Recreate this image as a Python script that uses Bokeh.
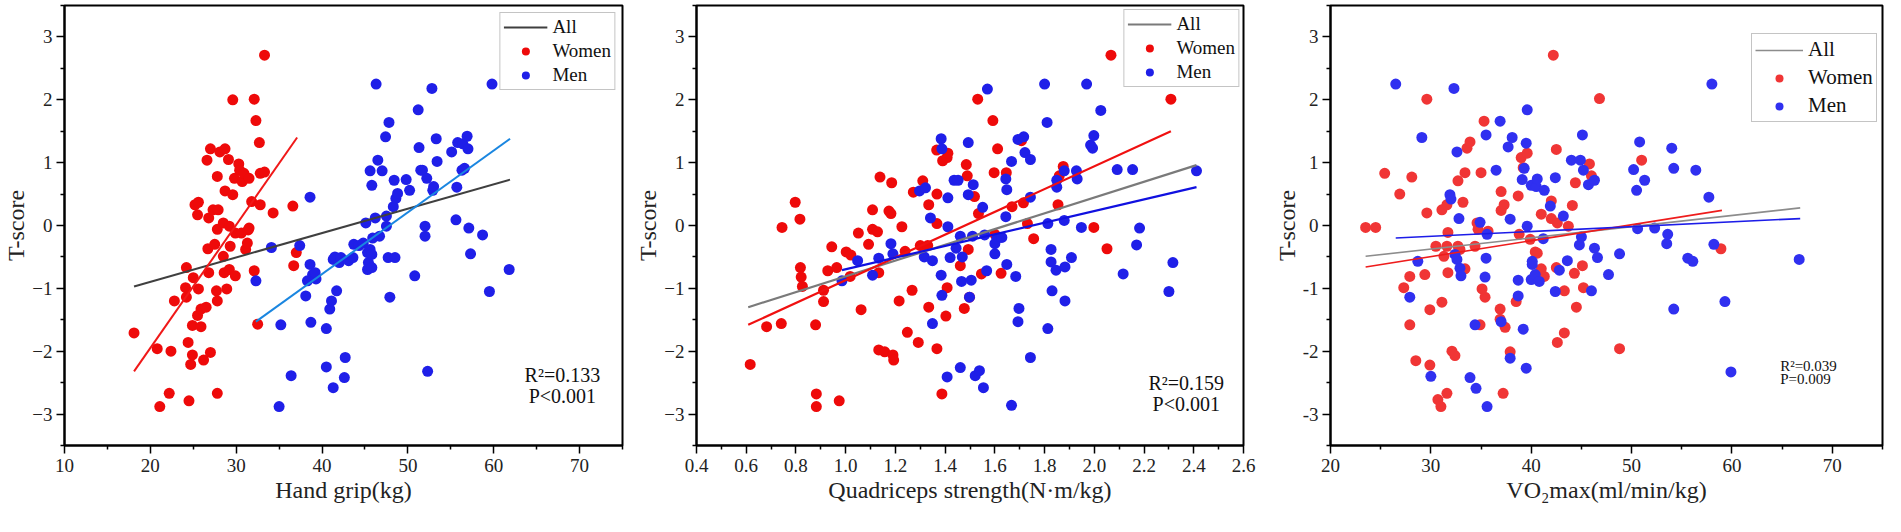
from bokeh.plotting import figure
from bokeh.layouts import row
from bokeh.models import (FixedTicker, CustomJSTickFormatter, Legend, LegendItem,
                          Label, Range1d)
from bokeh.embed import file_html
from bokeh.resources import INLINE

# ---------------- data ----------------
y_ticks = [-3, -2, -1, 0, 1, 2, 3]
y_minor = [-3.5, -2.5, -1.5, -0.5, 0.5, 1.5, 2.5, 3.5]

# Panel 1: hand grip
hg_ticks = [10, 20, 30, 40, 50, 60, 70]
hg_minor = [15, 25, 35, 45, 55, 65, 75]
hg_women_x = [18.1, 20.8, 22.4, 22.2, 21.1, 24.5, 22.8, 24.2, 24.1, 24.2, 24.4, 24.7, 24.9, 24.9, 25.0,
              25.2, 25.6, 25.5, 25.6, 25.5, 25.9, 26.2, 25.9, 26.5, 26.6, 26.7, 26.8, 27.0, 27.0, 26.8,
              27.3, 27.5, 27.8, 27.8, 27.9, 27.7, 27.8, 27.8, 28.1, 28.5, 28.5, 28.6, 28.7, 28.7, 28.9,
              29.1, 29.2, 29.2, 29.3, 29.6, 29.6, 29.8, 29.9, 29.9, 30.3, 30.4, 30.6, 30.7, 30.9, 31.1,
              31.3, 31.4, 31.5, 31.5, 31.8, 32.1, 32.1, 32.3, 32.7, 32.8, 32.8, 33.3, 33.3, 32.5, 34.3,
              36.6, 37.0, 36.7]
hg_women_y = [-1.71, -1.96, -2.00, -2.67, -2.88, -2.79, -1.20, -0.67, -0.99, -1.14, -1.86, -2.21, -2.06,
              -1.59, -0.83, 0.33, 0.37, 0.17, -1.01, -1.43, -1.61, -2.14, -1.33, -1.30, 1.04, -0.37,
              -0.75, 1.22, -2.02, 0.12, 0.25, -0.30, -0.06, 0.78, 0.25, -1.04, -1.20, -2.67, 1.17, 0.04,
              -0.49, -0.75, 1.22, 0.55, -1.01, 1.05, -0.01, -0.70, -0.33, 2.00, 0.49, 0.75, -0.12, -0.80,
              0.98, 0.88, -0.12, 0.70, 0.83, -0.38, -0.28, -0.07, 0.75, -0.04, 0.38, 2.01, -0.72, 1.67,
              1.32, 0.33, 0.83, 2.71, 0.85, -1.57, 0.20, 0.31, -0.43, -0.64]
hg_men_x = [32.3, 34.1, 35.2, 35.0, 36.4, 37.4, 38.1, 38.6, 38.7, 38.6, 38.9, 38.3, 39.3, 39.2, 40.5,
            40.5, 40.9, 41.1, 41.3, 41.3, 41.5, 41.7, 42.0, 42.2, 42.6, 42.7, 43.1, 43.6, 43.7, 44.3,
            44.8, 45.1, 45.3, 45.4, 45.3, 45.6, 45.8, 45.8, 45.6, 45.8, 45.9, 46.2, 46.3, 46.5, 46.7,
            47.0, 47.4, 47.5, 47.5, 47.7, 47.8, 47.9, 48.3, 48.4, 48.5, 48.6, 48.8, 49.8, 50.2, 50.8,
            51.2, 51.3, 51.5, 51.7, 52.0, 52.0, 52.2, 52.3, 52.8, 52.9, 53.0, 53.3, 53.4, 55.1, 55.6,
            55.7, 55.8, 56.3, 56.4, 56.6, 56.9, 57.0, 57.1, 57.3, 58.7, 59.5, 59.8, 61.8]
hg_men_y = [-0.88, -0.35, -1.58, -2.88, -2.39, -0.32, -1.12, 0.45, -1.54, -0.62, -0.78, -0.88, -0.85,
            -0.75, -1.64, -2.25, -1.33, -1.20, -2.58, -0.54, -0.50, -1.04, -0.59, -0.51, -2.42, -2.10,
            -0.56, -0.51, -0.30, -0.32, -0.28, 0.04, -0.43, -0.59, -0.70, -0.38, -0.46, -0.67, 0.87,
            0.64, -0.20, 0.12, 2.25, 1.04, -0.17, 0.87, 1.41, 0.15, -0.01, -0.51, 1.64, -1.14, 0.30,
            0.72, -0.51, 0.43, 0.51, 0.73, 0.56, -0.80, 1.84, 1.24, 0.88, 0.88, -0.01, -0.17, 0.75,
            -2.32, 2.18, 0.56, 0.62, 1.38, 1.02, 1.17, 0.09, 0.61, 1.32, 0.88, 1.30, 0.91, 1.42, 1.22,
            -0.04, -0.45, -0.15, -1.05, 2.25, -0.70]
hg_all_fit_x = [18.1, 61.9]
hg_all_fit_y = [-0.97, 0.73]
hg_women_fit_x = [18.1, 37.1]
hg_women_fit_y = [-2.32, 1.40]
hg_men_fit_x = [32.3, 61.9]
hg_men_fit_y = [-1.53, 1.38]

# Panel 2: quadriceps strength
qs_ticks = [0.4, 0.6, 0.8, 1.0, 1.2, 1.4, 1.6, 1.8, 2.0, 2.2, 2.4, 2.6]
qs_minor = [0.5, 0.7, 0.9, 1.1, 1.3, 1.5, 1.7, 1.9, 2.1, 2.3, 2.5]
qs_women_x = [0.616, 0.682, 0.741, 0.744, 0.797, 0.816, 0.818, 0.821, 0.826, 0.879, 0.882, 0.882, 0.911,
              0.911, 0.928, 0.944, 0.964, 0.974, 1.002, 1.021, 1.018, 1.051, 1.062, 1.092, 1.108, 1.108,
              1.128, 1.133, 1.138, 1.133, 1.157, 1.174, 1.182, 1.185, 1.190, 1.193, 1.215, 1.226, 1.239,
              1.248, 1.267, 1.272, 1.292, 1.300, 1.310, 1.330, 1.334, 1.334, 1.366, 1.367, 1.367, 1.367,
              1.387, 1.390, 1.403, 1.408, 1.411, 1.408, 1.461, 1.477, 1.485, 1.489, 1.493, 1.498, 1.518,
              1.531, 1.534, 1.546, 1.592, 1.597, 1.600, 1.611, 1.625, 1.646, 1.669, 1.707, 1.715, 1.731,
              1.756, 1.854, 1.859, 1.875, 1.998, 2.051, 2.067, 2.308]
qs_women_y = [-2.21, -1.61, -1.56, -0.03, 0.37, 0.10, -0.67, -0.82, -0.97, -1.58, -2.68, -2.88, -1.03,
              -1.21, -0.72, -0.34, -0.67, -2.79, -0.42, -0.47, -0.81, -0.12, -1.34, -0.30, 0.25, -0.06,
              -0.10, -0.75, 0.77, -1.98, -2.01, 0.23, 0.19, 0.68, -2.06, -2.14, -1.20, -0.02, -0.41,
              -1.70, -1.03, 0.53, -1.86, -0.32, 0.71, -0.32, 0.33, -1.30, 1.20, -1.96, 0.50, 0.03, -2.68,
              1.03, -1.44, 1.08, 1.15, -0.99, -0.64, -1.32, 0.97, 0.79, -0.38, -1.14, 0.46, 2.01, 0.19,
              -0.77, 1.67, 0.84, -0.14, 1.22, -0.76, 0.84, 0.30, 1.35, 0.36, 0.03, -0.21, 0.33, 0.79,
              0.94, -0.03, -0.37, 2.71, 2.01]
qs_men_x = [0.985, 1.048, 1.108, 1.133, 1.182, 1.190, 1.297, 1.321, 1.316, 1.341, 1.349, 1.349, 1.384,
            1.387, 1.384, 1.387, 1.408, 1.411, 1.411, 1.420, 1.436, 1.452, 1.444, 1.461, 1.461, 1.466,
            1.469, 1.493, 1.493, 1.498, 1.505, 1.510, 1.513, 1.521, 1.538, 1.551, 1.554, 1.559, 1.567,
            1.570, 1.600, 1.600, 1.608, 1.628, 1.644, 1.648, 1.644, 1.648, 1.667, 1.667, 1.684, 1.693,
            1.697, 1.693, 1.716, 1.721, 1.743, 1.743, 1.743, 1.800, 1.810, 1.813, 1.813, 1.826, 1.826,
            1.830, 1.846, 1.849, 1.849, 1.879, 1.879, 1.882, 1.882, 1.908, 1.928, 1.931, 1.948, 1.969,
            1.985, 1.993, 1.998, 2.026, 2.092, 2.116, 2.154, 2.170, 2.182, 2.300, 2.316, 2.411]
qs_men_y = [-0.88, -0.56, -0.79, -0.52, -0.29, -0.45, 0.55, 0.60, -0.50, 0.12, -0.56, -1.56, 1.38, 1.22,
            -0.79, -1.11, -2.41, 0.44, -0.02, -0.51, 0.72, 0.72, -0.36, -2.26, -0.17, -0.89, -0.50, 1.32,
            0.49, -1.14, -0.87, -0.17, 0.65, -2.39, -2.31, 0.29, -2.58, -0.15, -0.72, 2.17, -0.29, -0.45,
            -0.21, -0.19, 0.74, 0.57, 0.14, -0.62, 1.02, -2.86, -0.81, 1.37, -1.32, -1.53, 1.41, 1.16,
            1.05, 0.45, -2.10, 2.25, 1.64, 0.03, -1.64, -0.38, -0.58, -1.04, -0.71, 0.72, 0.61, 0.08,
            0.87, -0.66, -1.20, -0.51, 0.87, 0.74, -0.03, 2.25, 1.28, 1.23, 1.43, 1.83, 0.89, -0.77,
            0.89, -0.31, -0.04, -1.05, -0.59, 0.87]
qs_all_fit_x = [0.608, 2.411]
qs_all_fit_y = [-1.30, 0.96]
qs_women_fit_x = [0.608, 2.308]
qs_women_fit_y = [-1.58, 1.50]
qs_men_fit_x = [0.985, 2.411]
qs_men_fit_y = [-0.71, 0.61]

# Panel 3: VO2max
vo_ticks = [20, 30, 40, 50, 60, 70]
vo_minor = [25, 35, 45, 55, 65, 75]
vo_women_x = [23.5, 24.5, 25.4, 26.9, 27.3, 27.9, 28.1, 27.9, 28.5, 29.4, 29.6, 29.6, 29.9, 29.9, 30.5,
              30.7, 31.0, 31.1, 31.1, 31.3, 31.6, 31.6, 31.7, 31.7, 31.6, 32.1, 32.4, 32.7, 32.7, 32.9,
              33.2, 33.4, 33.4, 33.6, 33.9, 34.4, 34.6, 34.7, 34.9, 35.0, 35.1, 35.3, 35.4, 35.7, 36.9,
              36.9, 37.0, 37.0, 37.3, 37.4, 37.2, 37.9, 38.5, 38.7, 38.8, 39.0, 39.2, 39.6, 39.9, 40.4,
              40.6, 41.0, 41.0, 41.3, 42.0, 42.0, 42.2, 42.5, 42.5, 42.6, 42.6, 43.3, 43.3, 43.7, 44.1,
              44.3, 44.4, 44.5, 45.1, 45.2, 45.8, 46.0, 46.8, 48.8, 51.0, 58.9]
vo_women_y = [-0.03, -0.03, 0.83, 0.50, -0.99, -0.81, 0.77, -1.58, -2.15, -0.78, 2.01, 0.20, -1.34,
              -2.22, -0.33, -2.77, -2.88, 0.25, -1.22, -0.49, 0.33, -0.33, -0.11, -0.75, -2.67, -2.00,
              -2.07, -0.33, 0.71, -0.38, 0.37, 0.84, -0.69, 1.23, 1.33, -0.33, 0.04, -0.06, -1.58, 0.84,
              -1.01, 1.66, -1.14, -0.09, -1.33, -1.49, 0.24, 0.54, 0.33, -1.62, -2.67, -2.01, -1.21, 0.47,
              -0.14, 1.08, 0.92, 1.15, -0.22, -0.42, -0.44, -0.69, 0.18, -0.81, 0.11, 0.39, 2.71, 1.21,
              -0.67, 0.04, -1.86, -1.04, -1.71, -0.01, 0.32, -0.76, 0.68, -1.30, -0.64, -0.99, 0.98,
              0.79, 2.02, -1.96, 1.04, -0.37]
vo_men_x = [26.5, 28.7, 27.9, 29.1, 30.0, 31.9, 32.0, 32.3, 32.6, 32.8, 32.4, 32.6, 32.9, 33.0, 33.9,
            34.5, 34.4, 34.9, 35.5, 35.6, 35.5, 35.4, 35.6, 36.5, 36.9, 37.0, 37.7, 37.9, 38.1, 37.9,
            38.7, 38.7, 39.1, 39.3, 39.5, 39.2, 39.6, 39.6, 39.5, 40.0, 40.1, 40.1, 40.0, 40.5, 40.6,
            40.4, 40.8, 41.2, 41.3, 41.9, 42.4, 42.4, 42.8, 43.2, 43.6, 44.0, 44.8, 44.9, 45.0, 45.1,
            45.2, 45.7, 46.0, 46.3, 46.3, 46.6, 47.7, 48.8, 50.2, 50.5, 50.6, 50.8, 51.3, 52.3, 53.5,
            53.6, 54.0, 54.2, 54.2, 55.6, 56.1, 56.4, 57.7, 58.0, 58.2, 59.3, 59.9, 66.7]
vo_men_y = [2.25, -0.57, -1.14, 1.40, -2.40, 0.49, 0.42, 2.18, 1.17, 0.11, -0.46, -0.54, -0.68, -0.80,
            -2.42, -2.59, -1.58, 0.05, 1.44, -0.14, -0.52, -0.82, -2.88, 0.88, 1.66, -1.53, 1.25, 0.10,
            1.40, -2.11, -0.87, -1.12, 0.73, 0.91, 1.31, -1.65, 1.84, -0.01, -2.27, 0.64, -0.57, -0.62,
            -0.86, 0.62, 0.74, -0.78, -0.89, -0.21, 0.56, 0.31, 0.76, -1.05, -0.71, 0.15, -0.56, 1.04,
            -0.31, 1.04, -0.18, 1.44, 0.88, 0.65, -1.04, 0.72, -0.36, -0.51, -0.78, -0.45, 0.89, 0.56,
            -0.05, 1.33, 0.72, -0.04, -0.29, -0.14, 1.23, 0.91, -1.33, -0.52, -0.57, 0.88, 0.45, 2.25,
            -0.30, -1.21, -2.33, -0.54]
vo_all_fit_x = [23.5, 66.8]
vo_all_fit_y = [-0.49, 0.28]
vo_women_fit_x = [23.5, 59.0]
vo_women_fit_y = [-0.66, 0.24]
vo_men_fit_x = [26.5, 66.8]
vo_men_fit_y = [-0.20, 0.11]

FONT = "Liberation Serif"

MINUS_FMT = "return tick < 0 ? '\\u2212' + (-tick) : '' + tick;"
HYPHEN_FMT = "return '' + tick;"
ONE_DEC_FMT = "return tick.toFixed(1);"


def make_panel(cfg):
    p = figure(width=cfg["width"], height=516, output_backend="svg", toolbar_location=None,
               x_range=Range1d(*cfg["xr"]), y_range=Range1d(-3.5, 3.5),
               min_border_left=cfg["mbl"], min_border_right=cfg["mbr"],
               min_border_top=cfg["mbt"], min_border_bottom=cfg["mbb"],
               background_fill_color="white", border_fill_color="white")
    p.xgrid.grid_line_color = None
    p.ygrid.grid_line_color = None
    p.outline_line_color = "black"
    p.outline_line_width = 2
    p.outline_line_alpha = 1

    p.xaxis.ticker = FixedTicker(ticks=cfg["xticks"], minor_ticks=cfg["xminor"])
    p.yaxis.ticker = FixedTicker(ticks=y_ticks, minor_ticks=y_minor)
    p.xaxis.formatter = CustomJSTickFormatter(code=cfg["xfmt"])
    p.yaxis.formatter = CustomJSTickFormatter(code=cfg["yfmt"])
    for ax in (p.xaxis[0], p.yaxis[0]):
        ax.axis_line_width = 2
        ax.axis_line_color = "black"
        ax.major_tick_line_color = "black"
        ax.major_tick_line_width = 1.5
        ax.minor_tick_line_color = "black"
        ax.minor_tick_line_width = 1.5
        ax.major_tick_in = 0
        ax.major_tick_out = 8
        ax.minor_tick_in = 0
        ax.minor_tick_out = 4
        ax.major_label_text_font = FONT
        ax.major_label_text_font_size = "19px"
        ax.major_label_text_color = "#222222"
        ax.axis_label_text_font = FONT
        ax.axis_label_text_font_size = "24px"
        ax.axis_label_text_font_style = "normal"
        ax.axis_label_text_color = "#222222"
    p.xaxis.major_label_standoff = 5
    p.yaxis.major_label_standoff = 4
    p.xaxis.axis_label_standoff = 2
    p.yaxis.axis_label_standoff = 0
    p.xaxis.axis_label = cfg["xlabel"]
    p.yaxis.axis_label = "T-score"

    rw = p.scatter(cfg["wx"], cfg["wy"], size=11, color=cfg["red"], line_color=None)
    rm = p.scatter(cfg["mx"], cfg["my"], size=11, color=cfg["blue"], line_color=None)
    la = p.line(cfg["afx"], cfg["afy"], line_color=cfg["all_col"], line_width=cfg["lw"])
    p.line(cfg["wfx"], cfg["wfy"], line_color=cfg["wline"], line_width=cfg["lw"])
    p.line(cfg["mfx"], cfg["mfy"], line_color=cfg["mline"], line_width=cfg["lw"])

    legend = Legend(items=[LegendItem(label="All", renderers=[la]),
                           LegendItem(label="Women", renderers=[rw]),
                           LegendItem(label="Men", renderers=[rm])],
                    location=cfg["legloc"])
    legend.label_text_font = FONT
    legend.label_text_font_size = cfg["legfs"]
    legend.label_text_color = "#111111"
    legend.glyph_width = cfg["glyphw"]
    legend.glyph_height = 20
    legend.label_standoff = 5
    legend.padding = 3
    legend.spacing = cfg["legsp"]
    legend.margin = cfg["legmargin"]
    legend.border_line_color = "#8a8a8a"
    legend.border_line_width = 1.5
    legend.background_fill_color = "white"
    legend.background_fill_alpha = 1
    p.add_layout(legend, "center")

    for (x, y, t) in cfg["notes"]:
        p.add_layout(Label(x=x, y=y, text=t, text_align=cfg["note_align"], text_baseline="middle",
                           text_font=FONT, text_font_size=cfg["notefs"], text_color="#111111"))
    return p


p1 = make_panel(dict(width=632, xr=(10, 75), mbl=61, mbr=10, mbt=1, mbb=65,
                     xticks=hg_ticks, xminor=hg_minor, xfmt=HYPHEN_FMT, yfmt=MINUS_FMT,
                     xlabel="Hand grip(kg)",
                     wx=hg_women_x, wy=hg_women_y, mx=hg_men_x, my=hg_men_y,
                     red="#ee0a0a", blue="#1f1fe8",
                     afx=hg_all_fit_x, afy=hg_all_fit_y, wfx=hg_women_fit_x, wfy=hg_women_fit_y,
                     mfx=hg_men_fit_x, mfy=hg_men_fit_y,
                     all_col="#3f3f3f", wline="#f01818", mline="#1a86e0", lw=2,
                     legloc="top_right", legfs="19px", glyphw=44, legsp=2, legmargin=7,
                     notes=[(68.0, -2.38, "R²=0.133"), (68.0, -2.72, "P<0.001")],
                     note_align="center", notefs="20px"))

p2 = make_panel(dict(width=638, xr=(0.4, 2.6), mbl=63, mbr=27, mbt=5, mbb=71,
                     xticks=qs_ticks, xminor=qs_minor, xfmt=ONE_DEC_FMT, yfmt=MINUS_FMT,
                     xlabel="Quadriceps strength(N·m/kg)",
                     wx=qs_women_x, wy=qs_women_y, mx=qs_men_x, my=qs_men_y,
                     red="#ee0a0a", blue="#1f1fe8",
                     afx=qs_all_fit_x, afy=qs_all_fit_y, wfx=qs_women_fit_x, wfy=qs_women_fit_y,
                     mfx=qs_men_fit_x, mfy=qs_men_fit_y,
                     all_col="#7a7a7a", wline="#f01010", mline="#1010e0", lw=2.2,
                     legloc="top_right", legfs="19px", glyphw=44, legsp=2, legmargin=4,
                     notes=[(2.37, -2.50, "R²=0.159"), (2.37, -2.84, "P<0.001")],
                     note_align="center", notefs="20px"))

p3 = make_panel(dict(width=615, xr=(20, 75), mbl=58, mbr=3, mbt=4, mbb=64,
                     xticks=vo_ticks, xminor=vo_minor, xfmt=HYPHEN_FMT, yfmt=HYPHEN_FMT,
                     xlabel="VO₂max(ml/min/kg)",
                     wx=vo_women_x, wy=vo_women_y, mx=vo_men_x, my=vo_men_y,
                     red="#f03535", blue="#3030f0",
                     afx=vo_all_fit_x, afy=vo_all_fit_y, wfx=vo_women_fit_x, wfy=vo_women_fit_y,
                     mfx=vo_men_fit_x, mfy=vo_men_fit_y,
                     all_col="#8c8c8c", wline="#ee1c1c", mline="#1c1ce8", lw=1.6,
                     legloc=(421, 323), legfs="21px", glyphw=48, legsp=3, legmargin=0,
                     notes=[(64.8, -2.24, "R²=0.039"), (64.8, -2.44, "P=0.009")],
                     note_align="left", notefs="15px"))

layout = row(p1, p2, p3, spacing=0)
open("out.html", "w").write(file_html(layout, INLINE))
